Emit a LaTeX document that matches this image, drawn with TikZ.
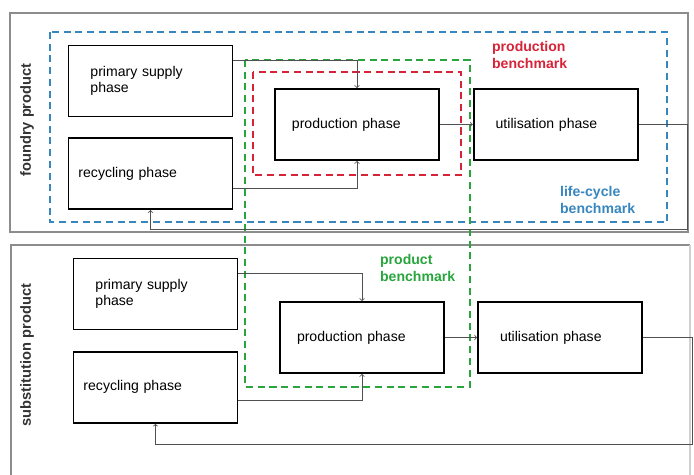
\documentclass[tikz,border=0pt]{standalone}
\usepackage{fontspec}
\setmainfont{Liberation Sans}
\usepackage{tikz}

\definecolor{lcblue}{RGB}{55,135,190}
\definecolor{pbred}{RGB}{215,35,55}
\definecolor{pbgreen}{RGB}{40,165,60}
\definecolor{linkgray}{RGB}{80,80,80}
\definecolor{panelgray}{RGB}{140,140,140}

\begin{document}
\begin{tikzpicture}[x=0.03cm, y=-0.03cm,
  box/.style={draw, line width=1.5pt, minimum height=2.13cm, text width=3.6cm,
    inner xsep=0.66cm, align=left, font=\fontsize{12}{14}\selectfont},
  link/.style={->, draw=linkgray, line width=0.7pt},
  panel/.style={draw=panelgray, line width=1.6pt},
  bench/.style={dash pattern=on 6pt off 4pt, line width=1.4pt},
  benchtag/.style={anchor=west, align=left, font=\bfseries\fontsize{12}{14}\selectfont},
  sidetext/.style={rotate=90, text=black!80, font=\bfseries\fontsize{12.5}{14}\selectfont}]
\useasboundingbox (0,0) rectangle (694,475);
\draw[panel] (10,13) rectangle (688,232);
\draw[panel] (11,475) -- (11,245) -- (690,245);
\draw[panel, draw=panelgray!40] (690,245) -- (690,475);
\node[sidetext] (foundry) at (27,120) {foundry product};
\node[sidetext] (subst) at (27,355) {substitution product};
\draw[bench, lcblue] (50,32) rectangle (667,222);
\draw[bench, pbgreen] (245,60) rectangle (470,387);
\draw[bench, pbred] (253,72) rectangle (461,175);
\node[benchtag, text=pbred] (prodbench) at (488,55) {production\\benchmark};
\node[benchtag, text=lcblue] (lcbench) at (556,200) {life-cycle\\benchmark};
\node[benchtag, text=pbgreen] (prbench) at (376,268) {product\\benchmark};
\node[box] (supA) at (150.5,81) {primary supply\\phase};
\node[box, below of=supA, node distance=2.78cm, text width=4.32cm, inner xsep=0.3cm] (recA) {recycling phase};
\node[box, text width=3.9cm, inner xsep=0.51cm] (prodA) at (357,124.5) {production phase};
\node[box, right of=prodA, node distance=5.96cm] (utilA) {utilisation phase};
\node[box] (supB) at (155.5,294) {primary supply\\phase};
\node[box, below of=supB, node distance=2.8cm, text width=4.32cm, inner xsep=0.3cm] (recB) {recycling phase};
\node[box, text width=3.9cm, inner xsep=0.51cm] (prodB) at (362,337.5) {production phase};
\node[box, right of=prodB, node distance=5.94cm] (utilB) {utilisation phase};
\coordinate (backA) at (687,229);
\coordinate (backB) at (692,444);
\draw[link] ([yshift=0.63cm]supA.east) -| (prodA.north);
\draw[link] ([yshift=-0.435cm]recA.east) -| (prodA.south);
\draw[link] (prodA.east) -- (utilA.west);
\draw[link] (utilA.east) -| (backA) -| (recA.south);
\draw[link] ([yshift=0.63cm]supB.east) -| (prodB.north);
\draw[link] ([yshift=-0.405cm]recB.east) -| (prodB.south);
\draw[link] (prodB.east) -- (utilB.west);
\draw[link] (utilB.east) -| (backB) -| (recB.south);
\end{tikzpicture}
\end{document}
